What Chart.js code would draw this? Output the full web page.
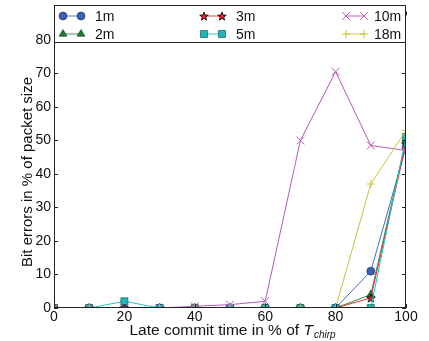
<!DOCTYPE html>
<html>
<head>
<meta charset="utf-8">
<script src="https://cdn.jsdelivr.net/npm/chart.js@4.4.0/dist/chart.umd.min.js"></script>
<style>
  html, body { margin: 0; padding: 0; background: #fff; }
  #wrap { width: 429px; height: 341px; }
</style>
</head>
<body>
<div id="wrap"><canvas id="chart" width="429" height="341"></canvas></div>
<script>
// late commit time (% of T_chirp) and bit errors (% of packet size)
const lateCommit = [0, 10, 20, 30, 40, 50, 60, 70, 80, 90, 100];
const err1m  = [0, 0, 0, 0, 0,   0, 0, 0,  0,    11,   48];
const err2m  = [0, 0, 0, 0, 0,   0, 0, 0,  0,    4,    50];
const err3m  = [0, 0, 0, 0, 0,   0, 0, 0,  0,    3,    49];
const err5m  = [0, 0, 2, 0, 0,   0, 0, 0,  0,    0,    51];
const err10m = [0, 0, 0, 0, 0.5, 1, 2, 50, 70.5, 48.5, 47];
const err18m = [0, 0, 0, 0, 0,   0, 0, 0,  0,    37,   53];
const xTicks = [0, 20, 40, 60, 80, 100];
const yTicks = [0, 10, 20, 30, 40, 50, 60, 70, 80];

const FONT = '"Liberation Sans", Arial, sans-serif';

// filled five-point star for the 3m series
function makeStar(size, fill) {
  const c = document.createElement('canvas');
  c.width = size; c.height = size;
  const g = c.getContext('2d');
  const cx = size / 2, cy = size / 2 + 0.5, ro = size / 2 - 0.5, ri = ro * 0.42;
  g.beginPath();
  for (let i = 0; i < 10; i++) {
    const r = i % 2 ? ri : ro;
    const a = -Math.PI / 2 + i * Math.PI / 5;
    g.lineTo(cx + r * Math.cos(a), cy + r * Math.sin(a));
  }
  g.closePath();
  g.fillStyle = fill; g.fill();
  g.lineWidth = 0.8; g.strokeStyle = '#000'; g.stroke();
  return c;
}
const star = makeStar(10, '#e3242b');

const pts = arr => lateCommit.map((x, i) => ({ x: x, y: arr[i] }));

function series(label, arr, line, fill, style, radius, edge, order) {
  return {
    label: label, data: pts(arr),
    borderColor: line, borderWidth: 1,
    pointStyle: style, pointRadius: radius, pointHoverRadius: radius,
    pointBackgroundColor: fill, pointBorderColor: edge, pointBorderWidth: edge === fill ? 1 : 0.6,
    tension: 0, fill: false, clip: 0, order: order
  };
}

const datasets = [
  series('1m',  err1m,  '#3f6cc6', '#3a62b2', 'circle',   4,   '#1a2a60', 6),
  series('2m',  err2m,  '#2e8b4e', '#1c7a38', 'triangle', 4.5, '#0c3a18', 5),
  series('3m',  err3m,  '#e8302f', '#e3242b', star,       5,   '#000',    4),
  series('5m',  err5m,  '#22c4c4', '#20b6b6', 'rect',     5,   '#0b4a4a', 3),
  series('10m', err10m, '#b45ab8', '#b45ab8', 'crossRot', 5.5, '#b45ab8', 2),
  series('18m', err18m, '#c9c23a', '#c9c23a', 'cross',    4,   '#c9c23a', 1)
];

// axes box, inward ticks, axis titles and legend, matplotlib style
const decor = {
  id: 'decor',
  afterDatasetsDraw(chart) {
    const ctx = chart.ctx, a = chart.chartArea;
    const xs = chart.scales.x, ys = chart.scales.y;
    ctx.save();
    ctx.strokeStyle = '#222'; ctx.lineWidth = 1;
    ctx.strokeRect(a.left + 0.5, a.top + 0.5, a.right - a.left - 1, a.bottom - a.top - 1);
    ctx.beginPath();
    xTicks.forEach(v => {
      const px = Math.round(xs.getPixelForValue(v)) + 0.5;
      ctx.moveTo(px, a.bottom); ctx.lineTo(px, a.bottom - 4);
      ctx.moveTo(px, a.top); ctx.lineTo(px, a.top + 4);
    });
    yTicks.forEach(v => {
      const py = Math.round(ys.getPixelForValue(v)) + 0.5;
      ctx.moveTo(a.left, py); ctx.lineTo(a.left + 4, py);
      ctx.moveTo(a.right, py); ctx.lineTo(a.right - 4, py);
    });
    ctx.stroke();

    // x title with subscript
    ctx.fillStyle = '#111';
    ctx.textBaseline = 'alphabetic';
    const main = 'Late commit time in % of ';
    ctx.font = '15.5px ' + FONT; const w1 = ctx.measureText(main).width;
    ctx.font = 'italic 15.5px ' + FONT; const w2 = ctx.measureText('T').width;
    ctx.font = 'italic 10px ' + FONT; const w3 = ctx.measureText('chirp').width;
    let x0 = (a.left + a.right) / 2 + 2 - (w1 + w2 + w3) / 2;
    const by = 335;
    ctx.font = '15.5px ' + FONT; ctx.textAlign = 'left'; ctx.fillText(main, x0, by);
    ctx.font = 'italic 15.5px ' + FONT; ctx.fillText('T', x0 + w1, by);
    ctx.font = 'italic 10px ' + FONT; ctx.fillText('chirp', x0 + w1 + w2 + 1, by + 3);

    // y title
    ctx.save();
    ctx.translate(28, 172); ctx.rotate(-Math.PI / 2);
    ctx.font = '15px ' + FONT; ctx.textAlign = 'center'; ctx.textBaseline = 'middle';
    ctx.fillText('Bit errors in % of packet size', 0, 0);
    ctx.restore();

    // legend box: three columns, two rows
    const lx = a.left, ly = 5, lw = a.right - a.left, lh = 38;
    ctx.fillStyle = '#fff'; ctx.fillRect(lx, ly, lw, lh);
    ctx.strokeStyle = '#222'; ctx.lineWidth = 1;
    ctx.strokeRect(lx + 0.5, ly + 0.5, lw - 1, lh - 1);
    const cols = [63, 204, 346], textOff = [32, 32, 28], rows = [16, 34];
    chart.data.datasets.forEach((ds, i) => {
      const c = Math.floor(i / 2), cx = cols[c], cy = rows[i % 2];
      ctx.globalAlpha = 0.6;
      ctx.strokeStyle = ds.borderColor; ctx.lineWidth = 1.5;
      ctx.beginPath(); ctx.moveTo(cx, cy); ctx.lineTo(cx + 18, cy); ctx.stroke();
      ctx.globalAlpha = 1;
      [cx, cx + 18].forEach(px => {
        ctx.fillStyle = ds.pointBackgroundColor; ctx.strokeStyle = ds.pointBorderColor;
        ctx.lineWidth = ds.pointBorderWidth;
        Chart.helpers.drawPoint(ctx, { pointStyle: ds.pointStyle, radius: ds.pointRadius, rotation: 0, borderWidth: ds.pointBorderWidth }, px, cy);
      });
      ctx.fillStyle = '#111'; ctx.font = '14px ' + FONT;
      ctx.textAlign = 'left'; ctx.textBaseline = 'middle';
      ctx.fillText(ds.label, cx + textOff[c], cy + 1);
    });
    ctx.restore();
  }
};

new Chart(document.getElementById('chart').getContext('2d'), {
  type: 'line',
  data: { datasets: datasets },
  options: {
    responsive: false,
    animation: false,
    layout: { padding: { top: 5, right: 23, left: 0, bottom: 0 } },
    plugins: { legend: { display: false }, tooltip: { enabled: false } },
    scales: {
      x: {
        type: 'linear', min: 0, max: 100,
        afterFit: s => { s.height = 33; },
        afterBuildTicks: s => { s.ticks = xTicks.map(v => ({ value: v })); },
        grid: { display: false, drawTicks: false, tickLength: 0 },
        border: { display: false },
        ticks: { color: '#111', padding: 1, font: { family: FONT, size: 14 } }
      },
      y: {
        min: 0, max: 88.5,
        afterFit: s => { s.width = 54; },
        afterBuildTicks: s => { s.ticks = yTicks.map(v => ({ value: v })); },
        grid: { display: false, drawTicks: false, tickLength: 0 },
        border: { display: false },
        ticks: { color: '#111', padding: 3, font: { family: FONT, size: 14 } }
      }
    }
  },
  plugins: [decor]
});
</script>
</body>
</html>
